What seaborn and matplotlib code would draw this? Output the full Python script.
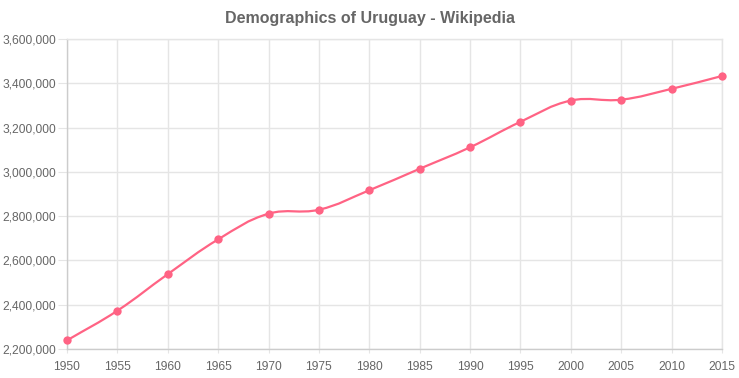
import matplotlib
matplotlib.use("Agg")
import matplotlib.pyplot as plt
from matplotlib.path import Path
from matplotlib.patches import PathPatch
import matplotlib.ticker as mticker
import numpy as np
import pandas as pd
import seaborn as sns

years = [1950, 1955, 1960, 1965, 1970, 1975, 1980, 1985, 1990, 1995, 2000, 2005, 2010, 2015]
population = [2239000, 2373000, 2538000, 2695000, 2811000, 2829000, 2917000,
              3014000, 3111000, 3226000, 3322000, 3326000, 3375000, 3433000]
title = "Demographics of Uruguay - Wikipedia"

line_color = "#ff6384"
text_color = "#666666"
grid_color = "#e5e5e5"

df = pd.DataFrame({"year": years, "population": population})

sns.set_style("white")
plt.rcParams["font.family"] = ["Liberation Sans", "DejaVu Sans"]

fig = plt.figure(figsize=(7.39, 3.78), dpi=100)
ax = fig.add_axes([67 / 739, 29 / 378, 655 / 739, 310 / 378])

ax.set_xlim(1950, 2015)
ax.set_ylim(2200000, 3600000)


# chart.js style spline (tension 0.4), control points worked out in pixel space
def spline_path(ax, xs, ys, tension=0.4):
    pts = ax.transData.transform(np.column_stack([xs, ys]))
    n = len(pts)
    cps = []
    for i in range(n):
        p = pts[max(i - 1, 0)]
        c = pts[i]
        q = pts[min(i + 1, n - 1)]
        d01 = np.hypot(*(c - p))
        d12 = np.hypot(*(q - c))
        tot = d01 + d12
        s01 = d01 / tot if tot else 0
        s12 = d12 / tot if tot else 0
        cps.append((c - tension * s01 * (q - p), c + tension * s12 * (q - p)))
    verts = [pts[0]]
    codes = [Path.MOVETO]
    for i in range(1, n):
        verts += [cps[i - 1][1], cps[i][0], pts[i]]
        codes += [Path.CURVE4] * 3
    verts = ax.transData.inverted().transform(np.array(verts))
    return Path(verts, codes)


ax.add_patch(PathPatch(spline_path(ax, df.year.values, df.population.values),
                       facecolor="none", edgecolor=line_color, lw=1.6, zorder=3))
sns.scatterplot(data=df, x="year", y="population", ax=ax, color=line_color,
                s=36, linewidth=0, zorder=4, clip_on=False, legend=False)

ax.set_xticks(years)
ax.set_yticks(range(2200000, 3600001, 200000))
ax.yaxis.set_major_formatter(mticker.FuncFormatter(lambda v, p: f"{int(v):,}"))
ax.grid(True, color=grid_color, lw=1)
ax.set_xlabel(None)
ax.set_ylabel(None)

for side in ["top", "right"]:
    ax.spines[side].set_color(grid_color)
    ax.spines[side].set_linewidth(1)
for side in ["left", "bottom"]:
    ax.spines[side].set_color("#cccccc")
    ax.spines[side].set_linewidth(1)

ax.tick_params(axis="y", length=6.5, color=grid_color, labelsize=8.64, labelcolor=text_color, pad=1.5)
ax.tick_params(axis="x", length=3, color=grid_color, labelsize=8.64, labelcolor=text_color, pad=5.5)
ax.tick_params(left=True, bottom=True)

fig.text(370 / 739, 1 - 18 / 378, title, ha="center", va="center",
         fontsize=11.5, fontweight="bold", color=text_color)

fig.savefig("out.png", dpi=100)
